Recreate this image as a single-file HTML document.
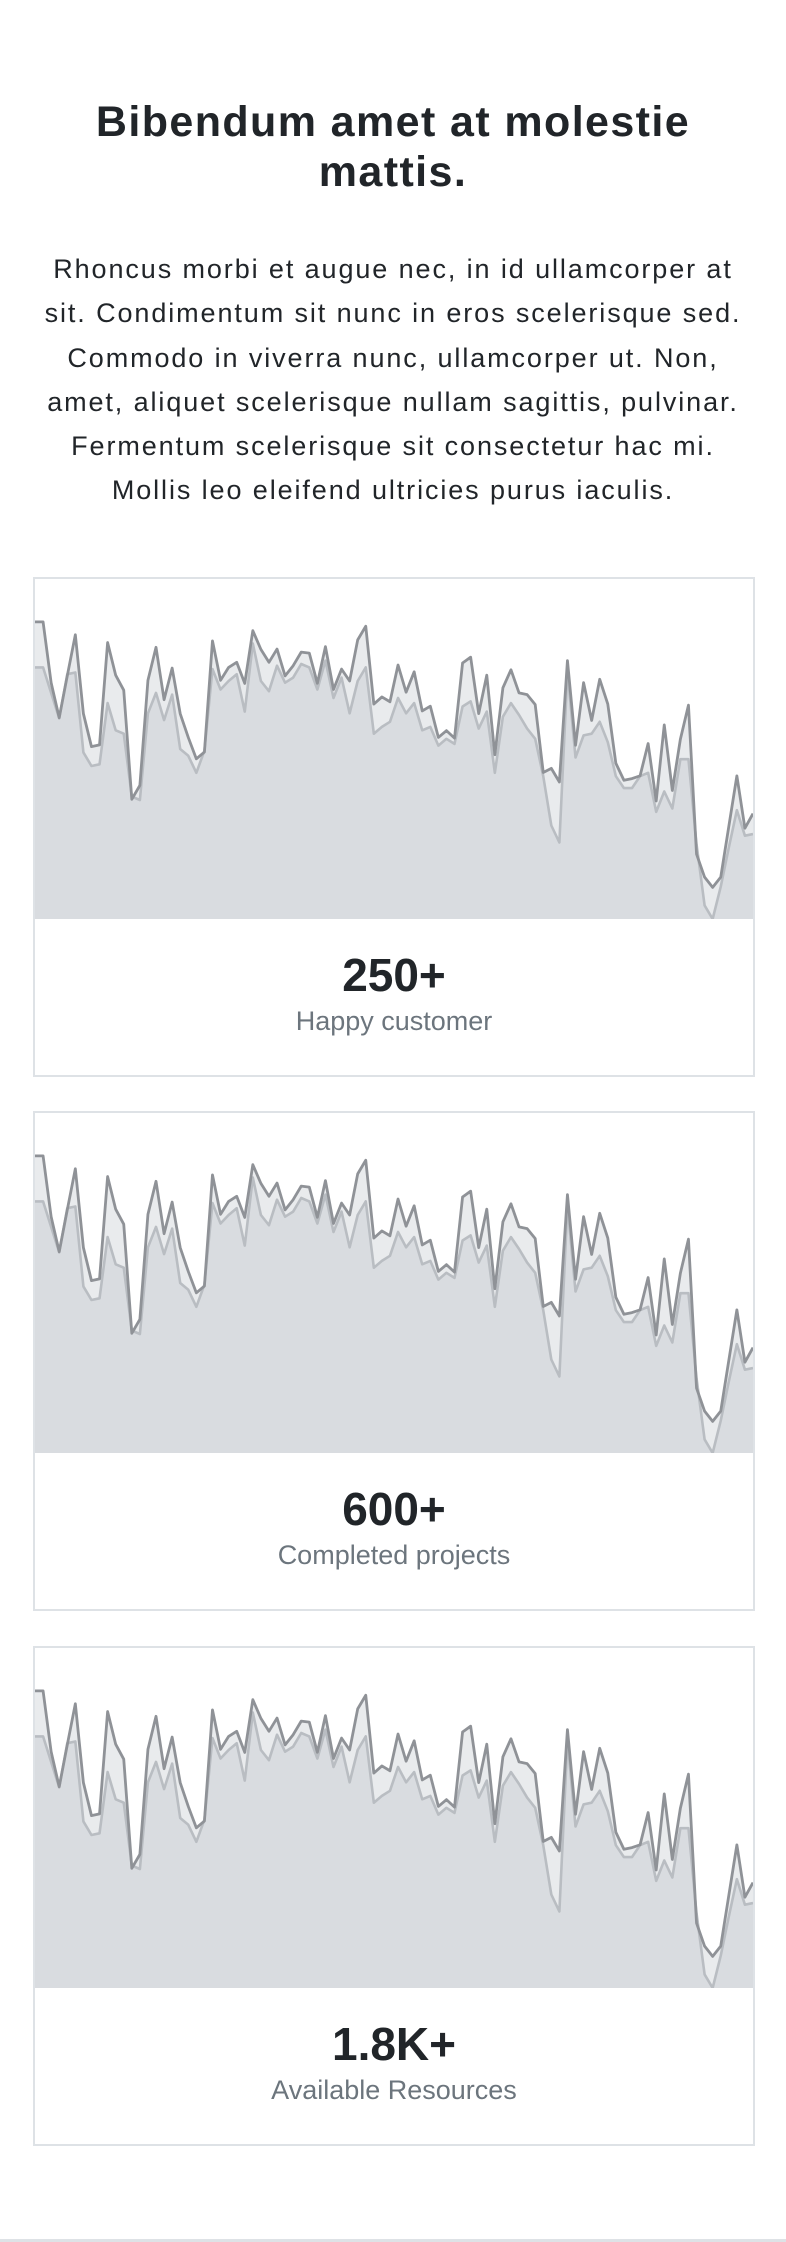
<!DOCTYPE html>
<html>
<head>
<meta charset="utf-8">
<style>
  html,body{margin:0;padding:0;background:#fff;}
  body{width:786px;height:2242px;position:relative;overflow:hidden;font-family:"Liberation Sans",sans-serif;color:#212529;}
  .title{position:absolute;left:0;top:97px;width:786px;text-align:center;font-size:43px;font-weight:bold;line-height:50px;margin:0;letter-spacing:1.4px;white-space:nowrap;}
  .lead{position:absolute;left:0;top:247px;width:786px;text-align:center;font-size:27px;line-height:44.3px;margin:0;letter-spacing:1.9px;white-space:nowrap;}
  .card{position:absolute;left:33px;width:722px;height:500px;box-sizing:border-box;border:2px solid #dee2e6;background:#fff;overflow:hidden;}
  .card svg{position:absolute;left:0;top:0;display:block;}
  .num{position:absolute;left:0;width:100%;top:368px;text-align:center;font-size:46px;font-weight:bold;line-height:56px;color:#212529;}
  .lbl{position:absolute;left:0;width:100%;top:425px;text-align:center;font-size:27px;line-height:34px;color:#6c757d;}
  .bottom-line{position:absolute;left:0;top:2239px;width:786px;height:3px;background:#dee2e6;}
</style>
</head>
<body>
<h2 class="title">Bibendum amet at molestie<br>mattis.</h2>
<p class="lead">Rhoncus morbi et augue nec, in id ullamcorper at<br>sit. Condimentum sit nunc in eros scelerisque sed.<br>Commodo in viverra nunc, ullamcorper ut. Non,<br>amet, aliquet scelerisque nullam sagittis, pulvinar.<br>Fermentum scelerisque sit consectetur hac mi.<br>Mollis leo eleifend ultricies purus iaculis.</p>

<div class="card" style="top:577px">
  <svg class="spark" width="718" height="340"></svg>
  <div class="num">250+</div>
  <div class="lbl">Happy customer</div>
</div>
<div class="card" style="top:1111px">
  <svg class="spark" width="718" height="340"></svg>
  <div class="num">600+</div>
  <div class="lbl">Completed projects</div>
</div>
<div class="card" style="top:1646px">
  <svg class="spark" width="718" height="340"></svg>
  <div class="num">1.8K+</div>
  <div class="lbl">Available Resources</div>
</div>
<div class="bottom-line"></div>

<script>
const seriesDark = [87.4,87.4,69.5,59.2,71.5,83.6,60.4,50.7,51.2,81.3,71.7,67.3,35.2,39.3,70.2,79.9,64.5,73.8,60.4,53.4,47.1,49.1,81.8,70.2,74.0,75.5,69.3,84.8,79.3,75.5,79.4,71.5,74.5,78.5,78.2,69.3,80.1,67.5,73.5,70.0,82.1,86.1,63.2,65.3,63.9,74.7,66.7,72.7,61.2,62.6,53.4,55.4,53.2,75.3,77.0,60.4,71.7,48.3,68.0,73.3,66.5,66.0,63.1,43.1,44.3,40.3,76.0,51.1,69.5,58.4,70.5,63.2,45.8,40.8,41.3,42.1,51.6,34.7,57.1,37.8,52.9,62.9,19.1,12.3,9.3,12.3,27.2,42.1,26.7,31.0];
const seriesLight = [74,74,66.5,59,72,72.5,49,45,45.5,63.5,55.5,54.5,36,35,60.5,66.5,58.5,66,50,48,43,49.5,73.5,67.5,70,72,61,81,70,67,74.5,69.5,71,75,74,67.5,76,65,71,60.5,70,74,54.5,56.5,58,65,60.5,63.5,55.5,56.5,51,53,51.5,62.5,64,56,61,43,59.5,63.5,60,56,53,42,27.5,22.5,73,47.5,54,54.5,58,52,42,38.5,38.5,42,43,31.5,37.5,32.5,47,47,22,4,0,9.5,21,32,24.5,25];
const yMax = 100;

const W = 718, H = 340;
function xScale(i, n){ return i * W / (n - 1); }
function yScale(v){ return H - (v / yMax) * H; }
function linePath(arr){
  return arr.map((v,i)=>(i?'L':'M')+xScale(i,arr.length).toFixed(2)+','+yScale(v).toFixed(2)).join(' ');
}
function areaPath(arr){
  return linePath(arr)+' L'+W+','+H+' L0,'+H+' Z';
}
const NS='http://www.w3.org/2000/svg';
document.querySelectorAll('svg.spark').forEach(svg=>{
  const a1=document.createElementNS(NS,'path');
  a1.setAttribute('d',areaPath(seriesLight));
  a1.setAttribute('fill','rgba(173,181,189,0.27)');
  
  
  svg.appendChild(a1);
  const a2=document.createElementNS(NS,'path');
  a2.setAttribute('d',areaPath(seriesDark));
  a2.setAttribute('fill','rgba(173,181,189,0.27)');
  
  
  svg.appendChild(a2);
  const l1=document.createElementNS(NS,'path');
  l1.setAttribute('d',linePath(seriesLight));
  l1.setAttribute('fill','none');
  l1.setAttribute('stroke','#b9bdc2');
  l1.setAttribute('stroke-width','2.6');
  l1.setAttribute('stroke-linejoin','round');
  
  
  svg.appendChild(l1);
  const l2=document.createElementNS(NS,'path');
  l2.setAttribute('d',linePath(seriesDark));
  l2.setAttribute('fill','none');
  l2.setAttribute('stroke','#8f9297');
  l2.setAttribute('stroke-width','2.8');
  l2.setAttribute('stroke-linejoin','round');
  
  
  svg.appendChild(l2);
});
</script>
</body>
</html>
